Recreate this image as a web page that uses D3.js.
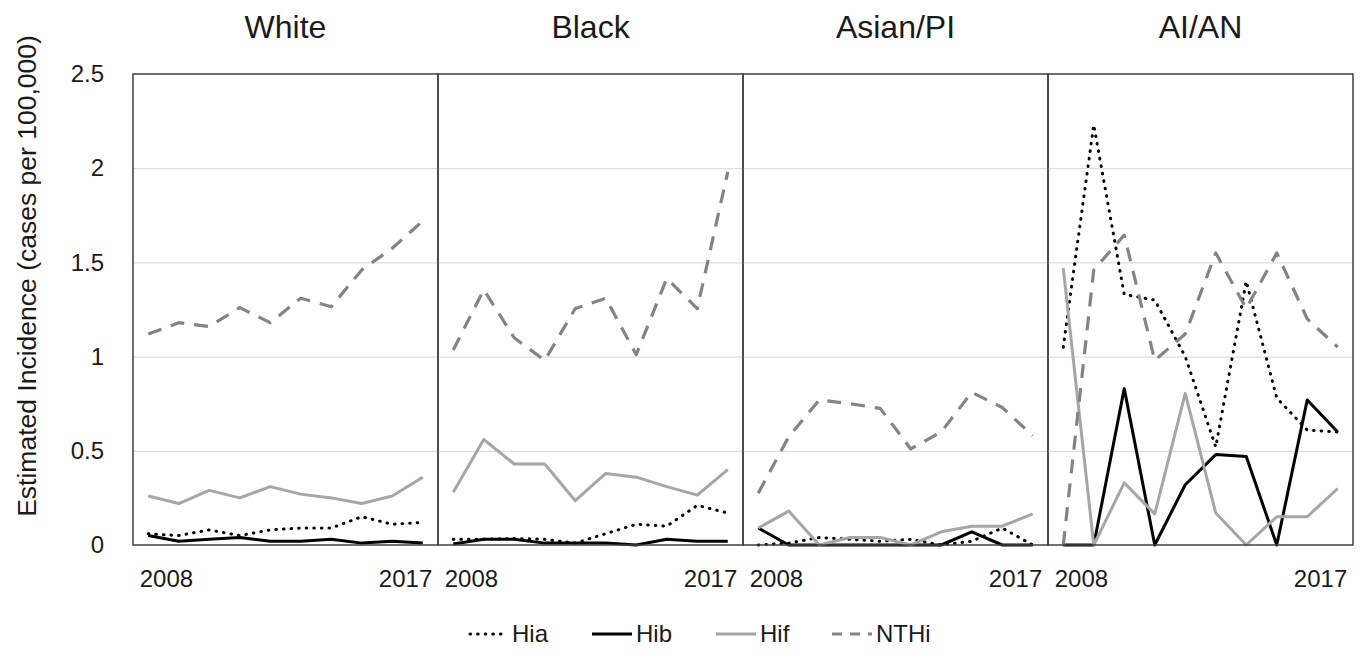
<!DOCTYPE html>
<html>
<head>
<meta charset="utf-8">
<script src="https://cdn.jsdelivr.net/npm/d3@7"></script>
<style>
  body { margin: 0; background: #fff; }
  text { font-family: "Liberation Sans", Arial, sans-serif; fill: #1a1a1a; }
</style>
</head>
<body>
<div class="canvas"></div>
<script>
// data
const years = [2008, 2009, 2010, 2011, 2012, 2013, 2014, 2015, 2016, 2017];
const groups = ['White', 'Black', 'Asian/PI', 'AI/AN'];
const seriesNames = ['Hia', 'Hib', 'Hif', 'NTHi'];
const yTicks = [0, 0.5, 1, 1.5, 2, 2.5];
const xLabels = [2008, 2017];

// one row per group, in the order of groups
const hia = [
  [0.06, 0.05, 0.08, 0.05, 0.08, 0.09, 0.09, 0.15, 0.11, 0.12],
  [0.03, 0.03, 0.035, 0.03, 0.01, 0.06, 0.11, 0.10, 0.21, 0.17],
  [0.0, 0.01, 0.04, 0.03, 0.02, 0.03, 0.0, 0.02, 0.09, 0.0],
  [1.05, 2.23, 1.33, 1.30, 1.0, 0.52, 1.40, 0.78, 0.61, 0.60]
];
const hib = [
  [0.05, 0.02, 0.03, 0.04, 0.02, 0.02, 0.03, 0.01, 0.02, 0.01],
  [0.005, 0.03, 0.03, 0.01, 0.01, 0.01, 0.0, 0.03, 0.02, 0.02],
  [0.09, 0.0, 0.0, 0.0, 0.0, 0.0, 0.0, 0.07, 0.0, 0.0],
  [0.0, 0.0, 0.83, 0.0, 0.32, 0.48, 0.47, 0.0, 0.77, 0.60]
];
const hif = [
  [0.26, 0.22, 0.29, 0.25, 0.31, 0.27, 0.25, 0.22, 0.26, 0.36],
  [0.28, 0.56, 0.43, 0.43, 0.235, 0.38, 0.36, 0.31, 0.265, 0.40],
  [0.09, 0.18, 0.0, 0.04, 0.04, 0.0, 0.07, 0.10, 0.10, 0.165],
  [1.47, 0.0, 0.33, 0.165, 0.805, 0.17, 0.0, 0.15, 0.15, 0.30]
];
const nthi = [
  [1.12, 1.18, 1.16, 1.26, 1.18, 1.31, 1.265, 1.46, 1.575, 1.72],
  [1.035, 1.355, 1.10, 0.98, 1.255, 1.31, 1.01, 1.415, 1.255, 1.98],
  [0.275, 0.575, 0.77, 0.75, 0.725, 0.51, 0.60, 0.81, 0.73, 0.58],
  [0.0, 1.46, 1.645, 0.98, 1.12, 1.55, 1.255, 1.55, 1.20, 1.05]
];
const seriesData = [hia, hib, hif, nthi];

// styles per series
const styles = [
  { color: '#000', width: 3, dash: '0.6 7', cap: 'round' },
  { color: '#000', width: 3, dash: null, cap: 'butt' },
  { color: '#a6a6a6', width: 3, dash: null, cap: 'butt' },
  { color: '#848484', width: 3.2, dash: '14 10', cap: 'butt' }
];

const width = 1366, height = 656;
const plotLeft = 133, plotTop = 74, plotBottom = 545;
const panelW = 305;

const svg = d3.select('.canvas').append('svg')
    .attr('width', width)
    .attr('height', height);

const y = d3.scaleLinear().domain([0, 2.5]).range([plotBottom, plotTop]);
const x = d3.scalePoint().domain(years).range([0, panelW]).padding(0.5);
const panelX = d3.scaleBand().domain(groups).range([plotLeft, plotLeft + panelW * groups.length]);

// y tick labels
svg.append('g')
    .attr('transform', `translate(${plotLeft - 29},0)`)
    .call(d3.axisLeft(y).tickValues(yTicks).tickSize(0).tickPadding(0).tickFormat(d => d))
    .call(g => g.select('.domain').remove())
    .selectAll('text')
    .style('font-size', '24px')
    .style('font-family', '"Liberation Sans", Arial, sans-serif')
    .attr('fill', '#1a1a1a');

// axis title
svg.append('text')
    .attr('transform', 'translate(36,276) rotate(-90)')
    .attr('text-anchor', 'middle')
    .style('font-size', '26.5px')
    .text('Estimated Incidence (cases per 100,000)');

const line = d3.line()
    .x((d, i) => x(years[i]))
    .y(d => y(d));

groups.forEach((name, gi) => {
  const g = svg.append('g')
      .attr('transform', `translate(${panelX(name)},0)`);

  // gridlines
  g.append('g')
      .call(d3.axisLeft(y).tickValues(yTicks.slice(1, -1)).tickSize(-panelW).tickFormat(''))
      .call(a => a.select('.domain').remove())
      .selectAll('line')
      .attr('stroke', '#dedede')
      .attr('stroke-width', 1.2);

  // panel title
  g.append('text')
      .attr('x', panelW / 2)
      .attr('y', 38)
      .attr('text-anchor', 'middle')
      .style('font-size', '32px')
      .text(name);

  // year labels
  g.append('g')
      .attr('transform', `translate(0,${plotBottom})`)
      .call(d3.axisBottom(x).tickValues(xLabels).tickSize(0).tickPadding(25))
      .call(a => a.select('.domain').remove())
      .selectAll('text')
      .style('font-size', '24px')
      .style('font-family', '"Liberation Sans", Arial, sans-serif')
      .attr('fill', '#1a1a1a')
      .attr('text-anchor', d => d === xLabels[0] ? 'start' : 'end')
      .attr('x', d => d === xLabels[0] ? -9 : 9);

  // series lines
  seriesData.forEach((s, si) => {
    const st = styles[si];
    g.append('path')
        .datum(s[gi])
        .attr('d', line)
        .attr('fill', 'none')
        .attr('stroke', st.color)
        .attr('stroke-width', st.width)
        .attr('stroke-dasharray', st.dash)
        .attr('stroke-linecap', st.cap)
        .attr('stroke-linejoin', 'round');
  });

  // panel border
  g.append('rect')
      .attr('x', 0)
      .attr('y', plotTop)
      .attr('width', panelW)
      .attr('height', plotBottom - plotTop)
      .attr('fill', 'none')
      .attr('stroke', '#404040')
      .attr('stroke-width', 1.5);
});

// legend
const legendX = [468, 592, 716, 832];
const legend = svg.append('g').attr('transform', 'translate(0,634)');
seriesNames.forEach((name, i) => {
  const st = styles[i];
  const item = legend.append('g').attr('transform', `translate(${legendX[i]},0)`);
  item.append('line')
      .attr('x1', i === 0 ? 2 : 0)
      .attr('x2', 40)
      .attr('stroke', st.color)
      .attr('stroke-width', st.width)
      .attr('stroke-dasharray', i === 3 ? '10 8' : st.dash)
      .attr('stroke-linecap', st.cap);
  item.append('text')
      .attr('x', 44)
      .attr('dy', '0.35em')
      .style('font-size', '24px')
      .text(name);
});
</script>
</body>
</html>
